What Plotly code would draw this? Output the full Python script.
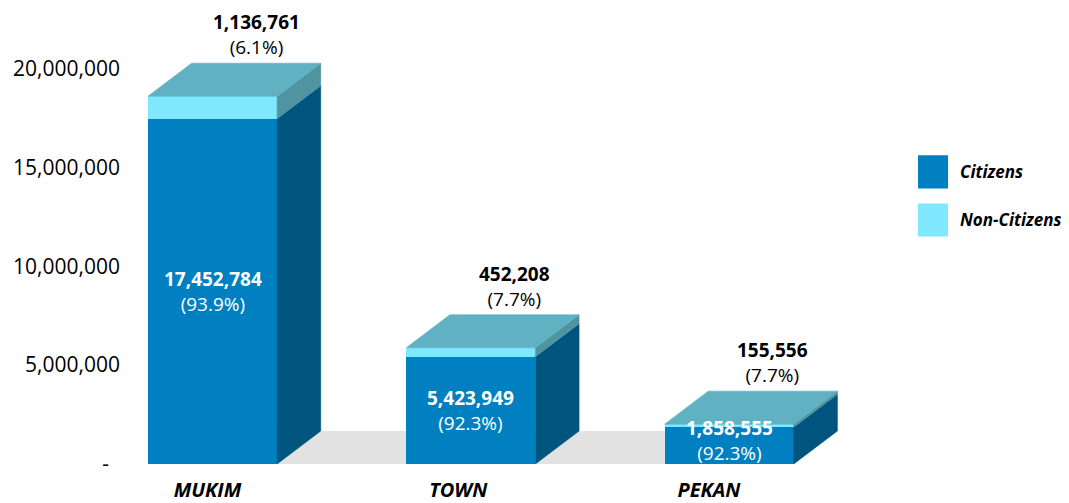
import plotly.graph_objects as go

# ---- data ----
categories = ["MUKIM", "TOWN", "PEKAN"]
citizens = [17452784, 5423949, 1858555]
non_citizens = [1136761, 452208, 155556]
y_tickvals = [0, 5000000, 10000000, 15000000, 20000000]
y_ticktext = ["-\u00a0\u00a0", "5,000,000", "10,000,000", "15,000,000", "20,000,000"]
series_names = ["Citizens", "Non-Citizens"]

# ---- style ----
C_FRONT = "#0080C0"
C_SIDE = "#00557F"
N_FRONT = "#7FE8FF"
N_SIDE = "#5094A2"
TOP = "#60B2C2"
FLOOR = "#E2E2E2"
FONT = "Open Sans"

W = 0.5          # bar width (x units)
DX = 0.169       # depth offset in x units
DY = 1668000     # depth offset in y units
Y_MAX = 22950000
PLOT_H = 454     # plot area height in px
LABEL_H = 52     # approx height of a two-line data label in px

xs = list(range(len(categories)))
totals = [c + n for c, n in zip(citizens, non_citizens)]

fig = go.Figure()

# front faces (stacked bars)
fig.add_trace(go.Bar(x=xs, y=citizens, width=W, marker=dict(color=C_FRONT, line=dict(width=0)),
                     name=series_names[0], showlegend=False, hoverinfo="skip"))
fig.add_trace(go.Bar(x=xs, y=non_citizens, width=W, marker=dict(color=N_FRONT, line=dict(width=0)),
                     name=series_names[1], showlegend=False, hoverinfo="skip"))


def poly_trace(polys, color):
    px, py = [], []
    for poly in polys:
        for (a, b) in poly:
            px.append(a)
            py.append(b)
        px.append(poly[0][0])
        py.append(poly[0][1])
        px.append(None)
        py.append(None)
    return go.Scatter(x=px, y=py, mode="lines", fill="toself", fillcolor=color,
                      line=dict(width=0.6, color=color), showlegend=False, hoverinfo="skip")


c_side, n_side, tops = [], [], []
for x, c, t in zip(xs, citizens, totals):
    r = x + W / 2
    l = x - W / 2
    c_side.append([(r, 0), (r + DX, DY), (r + DX, c + DY), (r, c)])
    n_side.append([(r, c), (r + DX, c + DY), (r + DX, t + DY), (r, t)])
    tops.append([(l, t), (r, t), (r + DX, t + DY), (l + DX, t + DY)])

fig.add_trace(poly_trace(c_side, C_SIDE))
fig.add_trace(poly_trace(n_side, N_SIDE))
fig.add_trace(poly_trace(tops, TOP))

# invisible trace to activate secondary x axis (category labels)
fig.add_trace(go.Scatter(x=xs, y=[0] * len(xs), xaxis="x2", mode="markers",
                         marker=dict(opacity=0), showlegend=False, hoverinfo="skip"))

# floor
x_first = xs[0] - W / 2
x_last = xs[-1] + W / 2
fig.add_shape(type="path", xref="x", yref="y", layer="below",
              path=f"M {x_first},0 L {x_last},0 L {x_last + DX},{DY} L {x_first + DX},{DY} Z",
              fillcolor=FLOOR, line=dict(width=0))

# data labels
for x, c, n, t in zip(xs, citizens, non_citizens, totals):
    bar_px = c / Y_MAX * PLOT_H
    if bar_px >= LABEL_H:
        pos = dict(y=c / 2, yanchor="middle", yshift=0)
    else:
        pos = dict(y=0, yanchor="bottom", yshift=-4)
    fig.add_annotation(x=x, xref="x", yref="y", showarrow=False,
                       text=f"<b>{c:,}</b><br>({c / t * 100:.1f}%)",
                       font=dict(family=FONT, size=19, color="white"), **pos)
    fig.add_annotation(x=x + DX, y=t + DY, xref="x", yref="y", showarrow=False,
                       yanchor="bottom", yshift=1,
                       text=f"<b>{n:,}</b><br>({n / t * 100:.1f}%)",
                       font=dict(family=FONT, size=19, color="black"))

# legend (manual)
leg = [(series_names[0], C_FRONT, 0.680, 0.607, 0.6446),
       (series_names[1], N_FRONT, 0.574, 0.501, 0.5386)]
for name, col, y1, y0, yc in leg:
    fig.add_shape(type="rect", xref="paper", yref="paper", x0=1.0507, x1=1.0907, y0=y0, y1=y1,
                  fillcolor=col, line=dict(width=0))
    fig.add_annotation(xref="paper", yref="paper", x=1.104, y=yc, xanchor="left", yanchor="middle",
                       showarrow=False, text=f"<b><i>{name}</i></b>",
                       font=dict(family=FONT, size=17, color="black"))

# the page body adds an 8px margin; the figure is sized to fit inside the window
fig.update_layout(
    width=1061, height=495,
    margin=dict(l=122, r=189, t=2, b=39),
    plot_bgcolor="white", paper_bgcolor="white",
    barmode="stack", showlegend=False,
    font=dict(family=FONT, color="black"),
    xaxis=dict(range=[-0.3194, 2.584], showticklabels=False, showgrid=False, zeroline=False,
               showline=False, ticks="", automargin=False),
    xaxis2=dict(overlaying="x", anchor="y", side="bottom", range=[-0.309, 2.682],
                tickvals=xs, ticktext=[f"<b><i>{c}</i></b>" for c in categories],
                tickfont=dict(family=FONT, size=20, color="black"),
                showgrid=False, zeroline=False, showline=False, ticks="",
                ticklabelstandoff=12, automargin=False),
    yaxis=dict(range=[0, Y_MAX], tickvals=y_tickvals, ticktext=y_ticktext,
               tickfont=dict(family=FONT, size=21, color="black"),
               showgrid=False, zeroline=False, showline=False, ticks="",
               ticklabelstandoff=9, automargin=False),
)

fig.write_html("out.html")
